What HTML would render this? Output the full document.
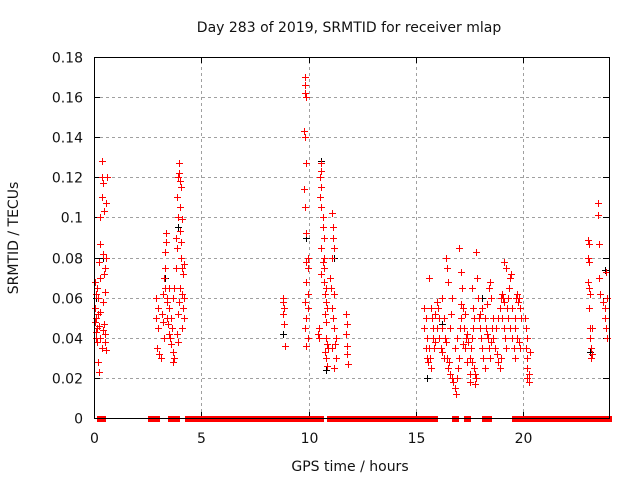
<!DOCTYPE html>
<html><head><meta charset="utf-8"><style>
html,body{margin:0;padding:0;background:#fff;}
svg{display:block;font-family:"DejaVu Sans","Liberation Sans",sans-serif;}
</style></head><body>
<svg id="chart" width="640" height="480" viewBox="0 0 640 480" xmlns="http://www.w3.org/2000/svg">
<rect width="640" height="480" fill="#fff"/>
<text x="349" y="32" font-size="14" text-anchor="middle" fill="#111">Day 283 of 2019, SRMTID for receiver mlap</text>
<text transform="translate(18,238) rotate(-90)" font-size="14" text-anchor="middle" fill="#111">SRMTID / TECUs</text>
<text x="350" y="471" font-size="14" text-anchor="middle" fill="#111">GPS time / hours</text>
<g id="grid"></g><g id="ticks"></g><g id="marks"></g>
<rect x="94.5" y="57.5" width="515" height="361" fill="none" stroke="#000" stroke-width="1"/>
</svg>
<script>
const xTicks=[0,5,10,15,20];
const yTicks=[0,0.02,0.04,0.06,0.08,0.1,0.12,0.14,0.16,0.18];
const yTickLabels=["0","0.02","0.04","0.06","0.08","0.1","0.12","0.14","0.16","0.18"];
const redHours=[0.05,0.1,0.05,0.1,0.15,0.08,0.12,0.2,0.25,0.3,0.3,0.35,0.35,0.4,0.45,0.35,0.4,0.5,0.45,0.55,0.5,0.3,0.25,0.3,0.35,0.4,0.45,0.5,0.55,0.2,0.25,0.6,0.55,0.3,0.15,0.2,0.4,0.5,0.05,0.1,
2.9,3.0,2.9,3.0,2.95,3.05,3.1,3.2,3.25,3.3,3.3,3.35,3.35,3.3,3.4,3.4,3.45,3.5,3.5,3.55,3.6,3.65,3.7,3.7,3.75,3.6,3.7,3.75,3.8,3.85,3.8,3.9,3.85,3.9,3.95,3.95,4.0,4.05,4.0,4.1,4.0,4.05,4.1,4.15,4.0,4.1,4.2,4.15,4.2,4.1,3.95,3.9,3.4,3.2,3.25,3.15,3.5,3.85,3.9,4.2,4.05,
8.8,8.8,8.85,8.8,8.85,8.9,
9.85,9.85,9.85,9.9,9.8,9.85,9.9,9.8,9.85,9.9,9.95,9.9,9.95,9.9,9.95,9.85,9.95,9.9,9.85,9.95,9.9,
10.6,10.6,10.55,10.6,10.55,10.6,10.65,10.65,10.7,10.6,10.7,10.65,10.7,10.6,10.7,10.8,10.75,10.8,10.85,10.75,10.8,10.5,10.45,10.5,10.8,10.85,10.9,10.75,10.8,10.85,11.1,11.15,11.15,11.2,11.1,11.0,11.05,11.2,11.1,11.15,11.2,11.3,11.25,11.3,11.75,11.8,11.75,11.8,11.8,11.85,11.1,11.2,
15.4,15.45,15.4,15.5,15.45,15.5,15.55,15.6,15.7,15.75,15.8,15.8,15.85,15.9,15.9,16.0,16.05,16.1,16.0,16.1,16.15,16.2,16.2,16.3,16.35,16.4,16.4,16.45,16.5,16.3,16.45,16.5,16.55,16.6,16.7,16.75,16.8,16.85,16.9,16.95,17.0,16.8,16.9,17.05,17.1,17.0,17.1,17.15,17.1,17.2,17.3,17.25,17.35,17.4,17.2,17.3,17.45,17.5,17.55,17.6,17.65,17.7,17.6,17.7,17.75,17.8,17.75,17.6,17.65,17.8,17.85,17.9,17.95,18.0,18.05,18.1,18.15,18.2,18.0,18.1,18.2,18.25,18.3,18.35,18.4,18.45,18.5,18.55,18.6,18.6,18.7,18.8,18.85,18.9,18.95,18.75,18.85,18.9,18.95,19.0,19.05,19.1,19.0,19.1,19.15,19.2,19.25,19.3,19.35,19.4,19.45,19.2,19.1,19.3,19.4,19.5,19.55,19.6,19.5,19.6,19.65,19.7,19.75,19.8,19.85,19.9,19.6,19.7,19.8,19.85,20.1,20.15,20.2,20.15,20.2,20.2,20.25,20.2,20.25,20.3,17.4,17.5,17.5,16.6,16.7,16.65,16.2,15.6,15.65,15.7,18.3,18.4,18.45,18.5,
23.0,23.05,23.0,23.05,23.0,23.05,23.1,23.05,23.1,23.1,23.15,23.2,23.15,23.5,23.5,23.55,23.55,23.6,23.7,23.8,23.8,23.85,23.9,23.9,23.85,23.2];
const redValues=[0.068,0.062,0.055,0.05,0.045,0.04,0.038,0.06,0.078,0.087,0.1,0.128,0.12,0.117,0.103,0.11,0.082,0.075,0.072,0.08,0.063,0.053,0.046,0.04,0.035,0.044,0.047,0.038,0.034,0.028,0.023,0.12,0.107,0.07,0.065,0.052,0.058,0.042,0.048,0.043,
0.06,0.055,0.05,0.045,0.035,0.032,0.03,0.062,0.07,0.075,0.083,0.088,0.092,0.065,0.058,0.05,0.047,0.055,0.042,0.04,0.037,0.045,0.033,0.028,0.03,0.05,0.06,0.065,0.075,0.085,0.09,0.1,0.11,0.12,0.127,0.122,0.118,0.115,0.105,0.099,0.093,0.088,0.075,0.072,0.065,0.062,0.06,0.055,0.05,0.045,0.058,0.052,0.06,0.048,0.04,0.052,0.065,0.042,0.038,0.077,0.08,
0.06,0.058,0.055,0.052,0.047,0.036,
0.17,0.166,0.162,0.16,0.143,0.14,0.127,0.114,0.105,0.092,0.08,0.078,0.075,0.068,0.062,0.058,0.055,0.05,0.045,0.04,0.036,
0.127,0.123,0.12,0.115,0.11,0.105,0.1,0.095,0.09,0.085,0.08,0.078,0.075,0.072,0.068,0.065,0.062,0.058,0.055,0.052,0.048,0.045,0.042,0.04,0.04,0.037,0.035,0.033,0.03,0.026,0.102,0.095,0.09,0.085,0.08,0.07,0.065,0.062,0.055,0.05,0.045,0.04,0.037,0.03,0.052,0.047,0.042,0.036,0.032,0.027,0.035,0.025,
0.055,0.05,0.045,0.04,0.035,0.03,0.028,0.07,0.055,0.05,0.045,0.04,0.035,0.038,0.052,0.058,0.055,0.05,0.045,0.04,0.035,0.033,0.045,0.05,0.04,0.038,0.08,0.075,0.068,0.03,0.03,0.025,0.028,0.022,0.02,0.018,0.015,0.012,0.02,0.025,0.03,0.035,0.04,0.045,0.05,0.085,0.073,0.065,0.057,0.055,0.052,0.045,0.04,0.042,0.037,0.035,0.038,0.03,0.035,0.04,0.045,0.05,0.028,0.025,0.022,0.02,0.017,0.065,0.055,0.083,0.07,0.06,0.05,0.045,0.04,0.035,0.03,0.025,0.052,0.055,0.05,0.045,0.042,0.04,0.035,0.03,0.038,0.045,0.05,0.04,0.035,0.032,0.028,0.025,0.03,0.045,0.05,0.055,0.06,0.062,0.06,0.058,0.05,0.045,0.04,0.035,0.055,0.06,0.065,0.07,0.072,0.075,0.078,0.05,0.045,0.04,0.035,0.03,0.055,0.05,0.06,0.062,0.058,0.06,0.055,0.05,0.045,0.04,0.038,0.035,0.05,0.045,0.04,0.035,0.03,0.025,0.022,0.02,0.018,0.033,0.028,0.022,0.018,0.045,0.06,0.052,0.06,0.035,0.03,0.025,0.057,0.065,0.068,0.06,
0.089,0.087,0.08,0.078,0.068,0.065,0.062,0.055,0.045,0.04,0.035,0.032,0.03,0.107,0.101,0.087,0.07,0.062,0.058,0.055,0.05,0.045,0.04,0.06,0.073,0.045];
const blackHours=[0.1,0.35,0.4,3.3,3.9,8.8,9.9,10.6,10.8,11.2,15.5,16.2,17.8,18.1,19.0,23.1,23.8];
const blackValues=[0.06,0.128,0.08,0.07,0.095,0.042,0.09,0.128,0.024,0.08,0.02,0.047,0.083,0.06,0.05,0.033,0.074];
const zeroStart=[0.3,2.65,3.6,4.4,9.8,10.0,11.0,11.5,15.6,16.8,17.4,18.2,19.6,20.1,20.45,23.2];
const zeroEnd=[0.45,2.95,3.9,9.6,9.85,10.55,11.3,15.4,15.9,16.85,17.45,18.4,19.8,20.3,22.9,24.0];

const NS="http://www.w3.org/2000/svg";
const X0=94,X1=609,Y0=418,Y1=57;
function xs(h){return X0+(h/24)*(X1-X0);}
function ys(v){return Y0-(v/0.18)*(Y0-Y1);}
const grid=document.getElementById('grid'),ticks=document.getElementById('ticks'),marks=document.getElementById('marks');
function mk(tag,attrs,parent){const e=document.createElementNS(NS,tag);for(const k in attrs)e.setAttribute(k,attrs[k]);parent.appendChild(e);return e;}
yTicks.forEach((v,i)=>{
  const y=Math.round(ys(v))+0.5;
  if(i>0&&i<yTicks.length-1){const g=mk('line',{x1:X0,x2:X1,y1:y,y2:y,stroke:'#a0a0a0','stroke-dasharray':'3,3'},grid);
  
  }
  mk('line',{x1:X0,x2:X0+6,y1:y,y2:y,stroke:'#000'},ticks);
  mk('line',{x1:X1-6,x2:X1,y1:y,y2:y,stroke:'#000'},ticks);
  const t=mk('text',{x:83,y:y+5,'font-size':14,'text-anchor':'end',fill:'#111'},ticks);
  t.textContent=yTickLabels[i];
  
  
});
xTicks.forEach(h=>{
  const x=Math.round(xs(h))+0.5;
  if(h>0){const g=mk('line',{x1:x,x2:x,y1:Y0,y2:Y1,stroke:'#a0a0a0','stroke-dasharray':'3,3'},grid);
  
  }
  mk('line',{x1:x,x2:x,y1:Y0,y2:Y0-6,stroke:'#000'},ticks);
  mk('line',{x1:x,x2:x,y1:Y1,y2:Y1+6,stroke:'#000'},ticks);
  const t=mk('text',{x:x,y:443,'font-size':14,'text-anchor':'middle',fill:'#111'},ticks);
  t.textContent=String(h);
  
  
});
function plus(h,v,col,name){
  const x=Math.round(xs(h))+0.5,y=Math.round(ys(v))+0.5;
  const p=mk('path',{d:`M${x-3.5} ${y}H${x+3.5}M${x} ${y-3.5}V${y+3.5}`,stroke:col,'stroke-width':1,fill:'none'},marks);
  
  
}
blackHours.forEach((h,i)=>plus(h,blackValues[i],'#000','srmtid-point-black'));
redHours.forEach((h,i)=>plus(h,redValues[i],'#f00','srmtid-point'));
zeroStart.forEach((s,i)=>{
  const x=Math.round(xs(s)-3),w=Math.round(xs(zeroEnd[i])-xs(s)+6);
  const r=mk('rect',{x:x,y:Y0-2,width:w,height:6,fill:'#f00'},marks);
  
  
});
</script>
</body></html>
